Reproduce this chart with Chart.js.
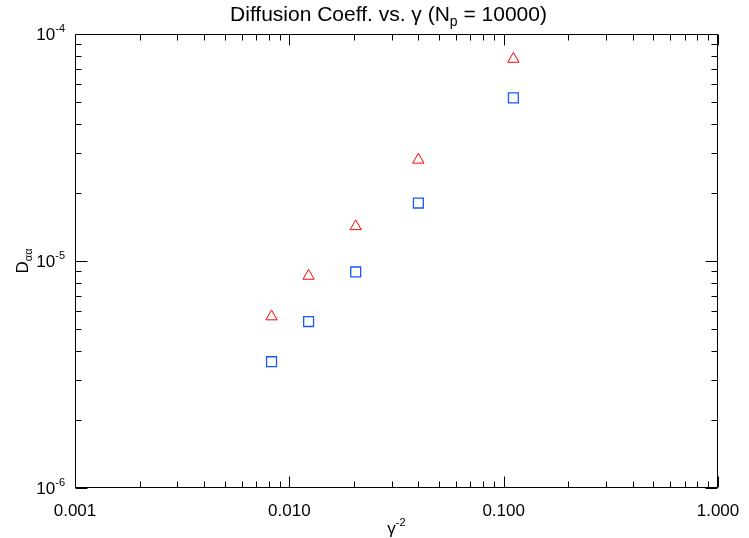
<!DOCTYPE html>
<html>
<head>
<meta charset="utf-8">
<script src="https://cdn.jsdelivr.net/npm/chart.js@4/dist/chart.umd.min.js"></script>
<style>
  html, body { margin: 0; padding: 0; background: #fff; }
  #plot { display: block; }
</style>
</head>
<body>
<canvas id="plot" width="749" height="538"></canvas>
<script>
// gamma^-2 values (gamma = 11, 9, 7, 5, 3)
const GAMMA_INV_SQ = [0.00826, 0.0123, 0.0204, 0.0400, 0.111];
// diffusion coefficient, two runs
const D_RED = [5.69e-6, 8.59e-6, 1.42e-5, 2.79e-5, 7.76e-5];
const D_BLUE = [3.60e-6, 5.41e-6, 8.95e-6, 1.80e-5, 5.23e-5];

const X_TICK_VALUES = [0.001, 0.01, 0.1, 1];
const X_TICK_LABELS = ['0.001', '0.010', '0.100', '1.000'];
const Y_TICK_VALUES = [1e-6, 1e-5, 1e-4];
const Y_TICK_EXPONENTS = ['-6', '-5', '-4'];

const FONT = '"Liberation Sans", Arial, Helvetica, sans-serif';

// draws base text followed by a raised (sup) or lowered (sub) small part
function drawParts(ctx, parts, x, y, align) {
    let total = 0;
    parts.forEach(p => {
        ctx.font = p.size + 'px ' + FONT;
        p.w = ctx.measureText(p.text).width;
        total += p.w;
    });
    let cx = x;
    if (align === 'center') cx = x - total / 2;
    if (align === 'right') cx = x - total;
    ctx.textAlign = 'left';
    ctx.textBaseline = 'alphabetic';
    parts.forEach(p => {
        ctx.font = p.size + 'px ' + FONT;
        ctx.fillText(p.text, cx, y + (p.dy || 0));
        cx += p.w;
    });
}

const boxAxes = {
    id: 'boxAxes',
    afterDraw(chart) {
        const ctx = chart.ctx;
        const a = chart.chartArea;
        const xs = chart.scales.x;
        const ys = chart.scales.y;
        ctx.save();
        ctx.strokeStyle = '#000';
        ctx.fillStyle = '#000';
        ctx.lineWidth = 1;

        const L = Math.round(a.left) + 0.5, R = Math.round(a.right) - 0.5;
        const T = Math.round(a.top) + 0.5, B = Math.round(a.bottom) - 0.5;
        ctx.beginPath();
        ctx.rect(L, T, R - L, B - T);
        ctx.stroke();

        // inward ticks, 1..9 per decade
        ctx.beginPath();
        for (let e = -3; e <= 0; e++) {
            for (let m = 1; m <= 9; m++) {
                const v = m * Math.pow(10, e);
                if (v > 1.0001) break;
                const px = Math.round(xs.getPixelForValue(v)) + 0.5;
                const len = m === 1 ? 11 : 6;
                ctx.moveTo(px, B); ctx.lineTo(px, B - len);
                ctx.moveTo(px, T); ctx.lineTo(px, T + len);
            }
        }
        for (let e = -6; e <= -4; e++) {
            for (let m = 1; m <= 9; m++) {
                const v = m * Math.pow(10, e);
                if (v > 1.0001e-4) break;
                const py = Math.round(ys.getPixelForValue(v)) + 0.5;
                const len = m === 1 ? 12 : 6;
                ctx.moveTo(L, py); ctx.lineTo(L + len, py);
                ctx.moveTo(R, py); ctx.lineTo(R - len, py);
            }
        }
        ctx.stroke();

        // x tick labels
        ctx.font = '17px ' + FONT;
        ctx.textAlign = 'center';
        ctx.textBaseline = 'alphabetic';
        X_TICK_VALUES.forEach((v, i) => {
            ctx.fillText(X_TICK_LABELS[i], xs.getPixelForValue(v), 516);
        });

        // y tick labels 10^n
        Y_TICK_VALUES.forEach((v, i) => {
            const py = ys.getPixelForValue(v);
            drawParts(ctx, [
                { text: '10', size: 17 },
                { text: Y_TICK_EXPONENTS[i], size: 11, dy: -8 }
            ], a.left - 10, py + 6, 'right');
        });

        // title
        drawParts(ctx, [
            { text: 'Diffusion Coeff. vs. \u03b3 (N', size: 21 },
            { text: 'p', size: 14, dy: 5 },
            { text: ' = 10000)', size: 21 }
        ], (a.left + a.right) / 2 - 8, 21, 'center');

        // x axis title
        drawParts(ctx, [
            { text: '\u03b3', size: 17 },
            { text: '-2', size: 11, dy: -8 }
        ], (a.left + a.right) / 2, 534, 'center');

        // y axis title, rotated
        ctx.save();
        ctx.translate(28, (a.top + a.bottom) / 2);
        ctx.rotate(-Math.PI / 2);
        drawParts(ctx, [
            { text: 'D', size: 17 },
            { text: '\u03b1\u03b1', size: 11, dy: 4 }
        ], 0, 0, 'center');
        ctx.restore();

        ctx.restore();
    }
};

new Chart(document.getElementById('plot'), {
    type: 'scatter',
    data: {
        datasets: [
            {
                label: 'red',
                data: GAMMA_INV_SQ.map((x, i) => ({ x: x, y: D_RED[i] })),
                pointStyle: 'triangle',
                pointRadius: 6.5,
                borderColor: 'rgb(255, 0, 0)',
                backgroundColor: 'rgba(0,0,0,0)',
                borderWidth: 1
            },
            {
                label: 'blue',
                data: GAMMA_INV_SQ.map((x, i) => ({ x: x, y: D_BLUE[i] })),
                pointStyle: 'rect',
                pointRadius: 7,
                borderColor: 'rgb(20, 90, 255)',
                backgroundColor: 'rgba(0,0,0,0)',
                borderWidth: 1.3
            }
        ]
    },
    options: {
        responsive: false,
        animation: false,
        events: [],
        layout: { padding: { left: 75, right: 31, top: 34, bottom: 50 } },
        plugins: { legend: { display: false }, tooltip: { enabled: false } },
        scales: {
            x: { type: 'logarithmic', min: 0.001, max: 1, display: false },
            y: { type: 'logarithmic', min: 1e-6, max: 1e-4, display: false }
        }
    },
    plugins: [boxAxes]
});
</script>
</body>
</html>
